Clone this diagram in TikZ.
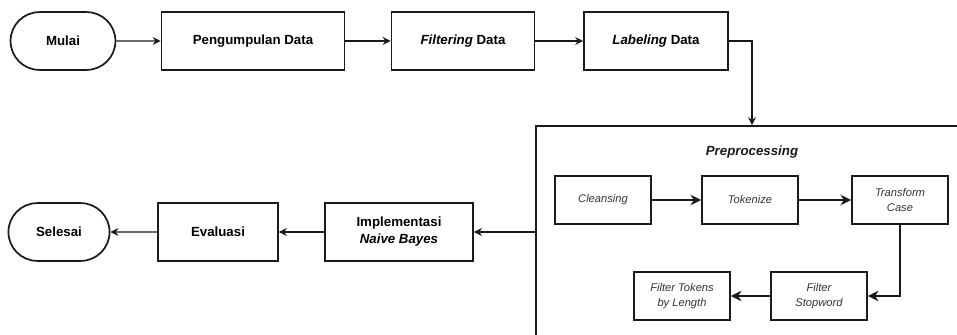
\documentclass[tikz,border=0pt]{standalone}
\usepackage{fontspec}
\setmainfont{Liberation Sans}
\usepackage{tikz}
\usetikzlibrary{arrows.meta, positioning, shapes.misc}
\usepackage{xcolor}
\definecolor{lineGray}{HTML}{1A1A1A}
\definecolor{textGray}{HTML}{333333}

\begin{document}
\begin{tikzpicture}[
    x=0.02646cm, y=-0.02646cm,
    step box/.style={draw=lineGray, line width=1.3pt, minimum height=1.53cm,
                align=center, font=\fontsize{10}{12.75}\selectfont\bfseries},
    term/.style={step box, rounded rectangle, minimum width=3.01cm},
    sub box/.style={draw=lineGray, line width=1.3pt, minimum width=2.54cm,
                minimum height=1.27cm, align=center, text=textGray,
                font=\fontsize{8.4}{11}\selectfont\itshape},
    arr/.style={-{Stealth[length=6pt, width=6pt, inset=2pt]}, line width=0.8pt, lineGray},
    thickarr/.style={-{Stealth[length=8pt, width=8pt, inset=2.5pt]}, line width=1.5pt, lineGray},
  ]
    \useasboundingbox (0,0) rectangle (957,335);
    % top row
    \node[term]                          (mulai) at ( 63, 41) {Mulai};
    \node[step box, minimum width=4.84cm] (kumpul) at (253, 41) {Pengumpulan Data};
    \node[step box, minimum width=3.78cm] (filter) at (463, 41) {\textit{Filtering} Data};
    \node[step box, minimum width=3.81cm] (label) at (656, 41) {\textit{Labeling} Data};
    % preprocessing container
    \node[draw=lineGray, line width=1.3pt, minimum width=11.43cm, minimum height=6.19cm]
      (prep) at (752, 243) {};
    \node[font=\fontsize{10}{12}\selectfont\bfseries\itshape, text=lineGray]
      (preptitle) at (752, 152) {Preprocessing};
    \node[sub box] (clean) at (603, 200) {Cleansing};
    \node[sub box] (token) at (750, 200) {Tokenize};
    \node[sub box] (trans) at (900, 200) {Transform\\Case};
    \node[sub box] (stop)  at (819, 296) {Filter\\Stopword};
    \node[sub box] (len)   at (682, 296) {Filter Tokens\\by Length};
    % bottom row
    \node[term, minimum width=2.91cm]     (selesai) at ( 59, 232) {Selesai};
    \node[step box, minimum width=3.18cm] (eval) at (218, 232) {Evaluasi};
    \node[step box, minimum width=3.92cm] (nb) at (399, 232) {Implementasi\\\textit{Naive Bayes}};
    % connectors
    \draw[arr] (mulai) -- (kumpul);
    \draw[arr] (kumpul) -- (filter);
    \draw[arr] (filter) -- (label);
    \draw[arr] (label.east) -| (prep.north);
    \draw[thickarr] (clean) -- (token);
    \draw[thickarr] (token) -- (trans);
    \draw[thickarr] (trans.south) |- (stop.east);
    \draw[thickarr] (stop) -- (len);
    \draw[arr] (nb.east -| prep.west) -- (nb.east);
    \draw[arr] (nb) -- (eval);
    \draw[arr] (eval) -- (selesai);
  \end{tikzpicture}
\end{document}
